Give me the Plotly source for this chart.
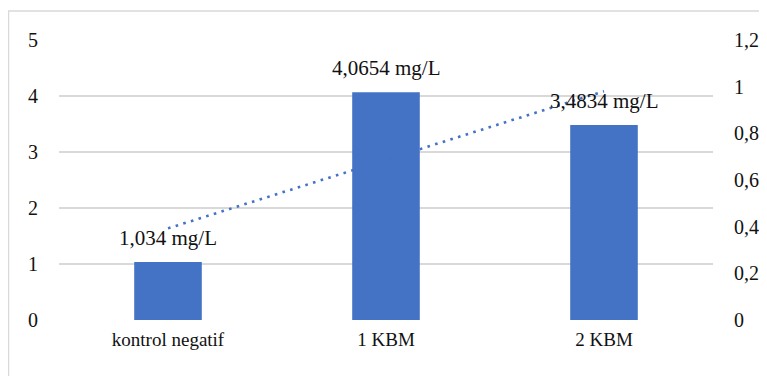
import numpy as np
import plotly.graph_objects as go

categories = ["kontrol negatif", "1 KBM", "2 KBM"]
values = [1.034, 4.0654, 3.4834]
labels = ["1,034 mg/L", "4,0654 mg/L", "3,4834 mg/L"]
left_ticks = [0, 1, 2, 3, 4, 5]
right_ticks = [0, 0.2, 0.4, 0.6, 0.8, 1.0, 1.2]

BLUE = "#4472C4"
GRID = "#D9D9D9"
FONT = "Liberation Serif"
TXT = "#111111"

xi = np.arange(len(values))
slope, intercept = np.polyfit(xi, values, 1)
trend_y = slope * xi + intercept

fig = go.Figure()
fig.add_trace(go.Bar(x=categories, y=values, marker_color=BLUE, width=0.31,
                     showlegend=False, hoverinfo="skip"))
fig.add_trace(go.Scatter(x=categories, y=trend_y, mode="lines",
                         line=dict(color=BLUE, width=2.6, dash="2.6px,5.4px"),
                         showlegend=False, hoverinfo="skip"))
fig.add_trace(go.Scatter(x=categories, y=[None] * 3, yaxis="y2", mode="lines",
                         showlegend=False, hoverinfo="skip"))

for c, v, t in zip(categories, values, labels):
    fig.add_annotation(x=c, y=v, text=t, showarrow=False, yanchor="bottom",
                       yshift=10, font=dict(family=FONT, size=21, color=TXT))

# page body has an 8px margin: figure origin sits at (8, 8) in the window
W, H = 759, 368
ml, mr, mt, mb = 51, 54, 32, 56
pw, ph = W - ml - mr, H - mt - mb
x0 = (0.5 - ml) / pw
y1 = (ph + mt - 3) / ph
fig.add_shape(type="rect", xref="paper", yref="paper", x0=x0, x1=3, y0=-3, y1=y1,
              line=dict(color=GRID, width=1.5), fillcolor="rgba(0,0,0,0)", layer="below")

fig.update_layout(
    template="none",
    width=W, height=H,
    margin=dict(l=ml, r=mr, t=mt, b=mb, autoexpand=False),
    paper_bgcolor="white", plot_bgcolor="white",
    separators=", ",
    font=dict(family=FONT, size=20, color=TXT),
    xaxis=dict(showgrid=False, showline=False, zeroline=False, ticks="",
               ticklabelstandoff=6, automargin=False,
               tickfont=dict(family=FONT, size=19, color=TXT)),
    yaxis=dict(range=[0, 5.0001], tickvals=left_ticks, showgrid=True, gridcolor=GRID,
               gridwidth=1.5, zeroline=False, showline=False, ticks="",
               ticklabelstandoff=20, automargin=False,
               tickfont=dict(family=FONT, size=20, color=TXT)),
    yaxis2=dict(range=[0, 1.2], tickvals=right_ticks, overlaying="y", side="right",
                showgrid=False, zeroline=False, showline=False, ticks="",
                ticklabelstandoff=20, automargin=False,
                tickfont=dict(family=FONT, size=20, color=TXT)),
)

fig.write_html("out.html")
